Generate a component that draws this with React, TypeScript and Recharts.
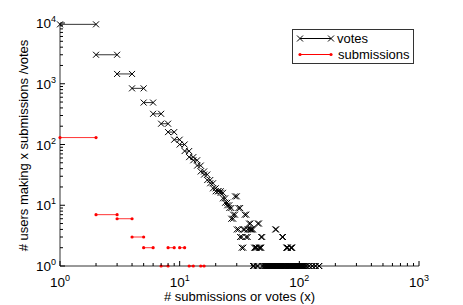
import { ComposedChart, Line, XAxis, YAxis, Legend, Label } from 'recharts';

// number of submissions / votes (x) and how many users made that many
const voteSizes = [
  1, 2, 3, 4, 5, 6, 7, 8, 9, 10, 11, 12, 13, 14, 15, 16, 17, 18, 19, 20, 21, 22, 23, 24,
  25, 26, 27, 28, 29, 30, 31, 32, 33, 34, 35, 36, 37, 38, 39, 40, 41, 42, 43, 44, 45, 46, 47, 48,
  49, 51, 52, 53, 54, 55, 56, 58, 59, 60, 61, 62, 63, 64, 65, 67, 68, 69, 70, 71, 72, 73, 74,
  76, 77, 78, 79, 80, 81, 82, 83, 84, 85, 86, 87, 88, 89, 91, 92, 93, 94, 95, 96, 98, 99, 100,
  101, 102, 104, 105, 106, 107, 110, 114, 120, 128, 136, 146,
];
const voteUsers = [
  9500, 3000, 1450, 840, 490, 320, 220, 160, 120, 100, 78, 62, 55, 45, 36, 32, 26, 23, 19, 17, 17, 16, 13, 11,
  10, 9, 6, 7, 14, 4, 9, 3, 2, 4, 7, 3, 4, 5, 4, 4, 1, 2, 2, 1, 5, 2, 2, 3,
  1, 1, 1, 1, 1, 1, 1, 1, 1, 1, 1, 1, 4, 1, 1, 1, 1, 1, 1, 1, 3, 1, 1,
  1, 1, 2, 2, 1, 1, 1, 1, 1, 2, 2, 1, 1, 1, 1, 1, 1, 1, 1, 1, 1, 1, 1,
  1, 1, 1, 1, 1, 1, 1, 1, 1, 1, 1, 1,
];
const submissionSizes = [1, 2, 3, 4, 5, 7, 8, 10, 12, 15];
const submissionUsers = [130, 7, 6, 3, 2, 1, 2, 2, 1, 1];

const xTicks = [
  1, 2, 3, 4, 5, 6, 7, 8, 9, 10, 20, 30, 40, 50, 60, 70, 80, 90,
  100, 200, 300, 400, 500, 600, 700, 800, 900, 1000,
];
const yTicks = [
  1, 2, 3, 4, 5, 6, 7, 8, 9, 10, 20, 30, 40, 50, 60, 70, 80, 90,
  100, 200, 300, 400, 500, 600, 700, 800, 900, 1000, 2000, 3000, 4000, 5000, 6000, 7000, 8000, 9000, 10000,
];
const majorTicks = [1, 10, 100, 1000, 10000];

const FONT = '"Liberation Sans", Arial, Helvetica, sans-serif';
const AXIS = '#333';

// each count is drawn as a flat step from x to x+1
function steps(sizes: number[], users: number[]) {
  const rows: { x: number; y: number | null }[] = [];
  sizes.forEach((k, i) => {
    rows.push({ x: k, y: users[i] }, { x: k + 1, y: users[i] }, { x: k + 1, y: null });
  });
  return rows;
}

const voteData = steps(voteSizes, voteUsers);
const submissionData = steps(submissionSizes, submissionUsers);

const Power = ({ v }: { v: number }) => (
  <>
    10<tspan dy={-6} fontSize={9}>{Math.round(Math.log10(v))}</tspan>
  </>
);

function makeTick(side: 'bottom' | 'top' | 'left' | 'right') {
  return (props: any) => {
    const { x, y, payload, index } = props;
    const v = payload.value;
    const major = majorTicks.includes(v);
    const len = major ? 5 : 3;
    let line;
    if (side === 'bottom') line = <line x1={x} x2={x} y1={y} y2={y - len} stroke="#000" />;
    else if (side === 'top') line = <line x1={x} x2={x} y1={y} y2={y + len} stroke="#000" />;
    else if (side === 'left') line = <line x1={x} x2={x + len} y1={y} y2={y} stroke="#000" />;
    else line = <line x1={x} x2={x - len} y1={y} y2={y} stroke="#000" />;
    let label = null;
    if (major && side === 'bottom') {
      label = (
        <text x={x} y={y + 21} textAnchor="middle" fontSize={13.5} fontFamily={FONT} fill="#000">
          <Power v={v} />
        </text>
      );
    } else if (major && side === 'left') {
      label = (
        <text x={x - 4} y={y + 5} textAnchor="end" fontSize={13.5} fontFamily={FONT} fill="#000">
          <Power v={v} />
        </text>
      );
    }
    return (
      <g key={`${side}-${index}`}>
        {line}
        {label}
      </g>
    );
  };
}

const CrossDot = (props: any) => {
  const { cx, cy, payload, index } = props;
  if (payload?.y == null || cx == null || cy == null) return <g key={`c-${index}`} />;
  return (
    <path
      key={`c-${index}`}
      d={`M${cx - 3},${cy - 3}L${cx + 3},${cy + 3}M${cx - 3},${cy + 3}L${cx + 3},${cy - 3}`}
      stroke="#000"
      strokeWidth={1}
      fill="none"
    />
  );
};

const RedDot = (props: any) => {
  const { cx, cy, payload, index } = props;
  if (payload?.y == null || cx == null || cy == null) return <g key={`r-${index}`} />;
  return <circle key={`r-${index}`} cx={cx} cy={cy} r={1.6} fill="#f00" stroke="none" />;
};

const LegendBox = () => (
  <svg width={123} height={36} style={{ display: 'block', fontFamily: FONT }}>
    <rect x={0.5} y={0.5} width={121} height={34} fill="#fff" stroke={AXIS} />
    <line x1={8} x2={39} y1={9.5} y2={9.5} stroke="#000" />
    <path d="M5,6.5L11,12.5M5,12.5L11,6.5M36,6.5L42,12.5M36,12.5L42,6.5" stroke="#000" fill="none" />
    <text x={45} y={14} fontSize={13} fill="#000">votes</text>
    <line x1={8} x2={39} y1={25.5} y2={25.5} stroke="#f00" />
    <circle cx={8} cy={25.5} r={1.6} fill="#f00" />
    <circle cx={39} cy={25.5} r={1.6} fill="#f00" />
    <text x={46} y={30} fontSize={13} fill="#000">submissions</text>
  </svg>
);

export default function App() {
  return (
    <div style={{ position: 'fixed', left: 0, top: 0, background: '#fff', fontFamily: FONT }}>
      <ComposedChart width={463} height={305} margin={{ top: 23, right: 44, bottom: 0, left: 0 }}>
        <XAxis
          dataKey="x"
          type="number"
          scale="log"
          domain={[1, 1000]}
          ticks={xTicks}
          interval={0}
          height={39}
          tickSize={0}
          tickMargin={0}
          tickLine={false}
          axisLine={{ stroke: AXIS }}
          tick={makeTick('bottom')}
        >
          <Label
            content={(p: any) => {
              const vb = p.viewBox;
              return (
                <text x={vb.x + vb.width / 2} y={vb.y + 35} textAnchor="middle" fontSize={13} fontFamily={FONT} fill="#000">
                  # submissions or votes (x)
                </text>
              );
            }}
          />
        </XAxis>
        <XAxis
          xAxisId="top"
          orientation="top"
          type="number"
          scale="log"
          domain={[1, 1000]}
          allowDataOverflow
          ticks={xTicks}
          interval={0}
          height={0}
          tickSize={0}
          tickMargin={0}
          tickLine={false}
          axisLine={{ stroke: AXIS }}
          tick={makeTick('top')}
        />
        <YAxis
          type="number"
          scale="log"
          domain={[1, 10000]}
          ticks={yTicks}
          interval={0}
          width={60}
          tickSize={0}
          tickMargin={0}
          tickLine={false}
          axisLine={{ stroke: AXIS }}
          tick={makeTick('left')}
        >
          <Label
            content={(p: any) => {
              const vb = p.viewBox;
              const cx = 28;
              const cy = vb.y + vb.height / 2 + 1;
              return (
                <text
                  x={cx}
                  y={cy}
                  transform={`rotate(-90 ${cx} ${cy})`}
                  textAnchor="middle"
                  fontSize={13}
                  fontFamily={FONT}
                  fill="#000"
                >
                  # users making x submissions /votes
                </text>
              );
            }}
          />
        </YAxis>
        <YAxis
          yAxisId="right"
          orientation="right"
          type="number"
          scale="log"
          domain={[1, 10000]}
          allowDataOverflow
          ticks={yTicks}
          interval={0}
          width={0}
          tickSize={0}
          tickMargin={0}
          tickLine={false}
          axisLine={{ stroke: AXIS }}
          tick={makeTick('right')}
        />
        <Line
          data={voteData}
          dataKey="y"
          name="votes"
          stroke="#000"
          strokeWidth={0.8}
          dot={CrossDot}
          activeDot={false}
          isAnimationActive={false}
        />
        <Line
          data={submissionData}
          dataKey="y"
          name="submissions"
          stroke="#f00"
          strokeWidth={0.8}
          dot={RedDot}
          activeDot={false}
          isAnimationActive={false}
        />
        <Legend
          layout="vertical"
          align="center"
          verticalAlign="middle"
          wrapperStyle={{ position: 'absolute', left: 292, top: 29, width: 123, height: 36 }}
          content={() => <LegendBox />}
        />
      </ComposedChart>
    </div>
  );
}
